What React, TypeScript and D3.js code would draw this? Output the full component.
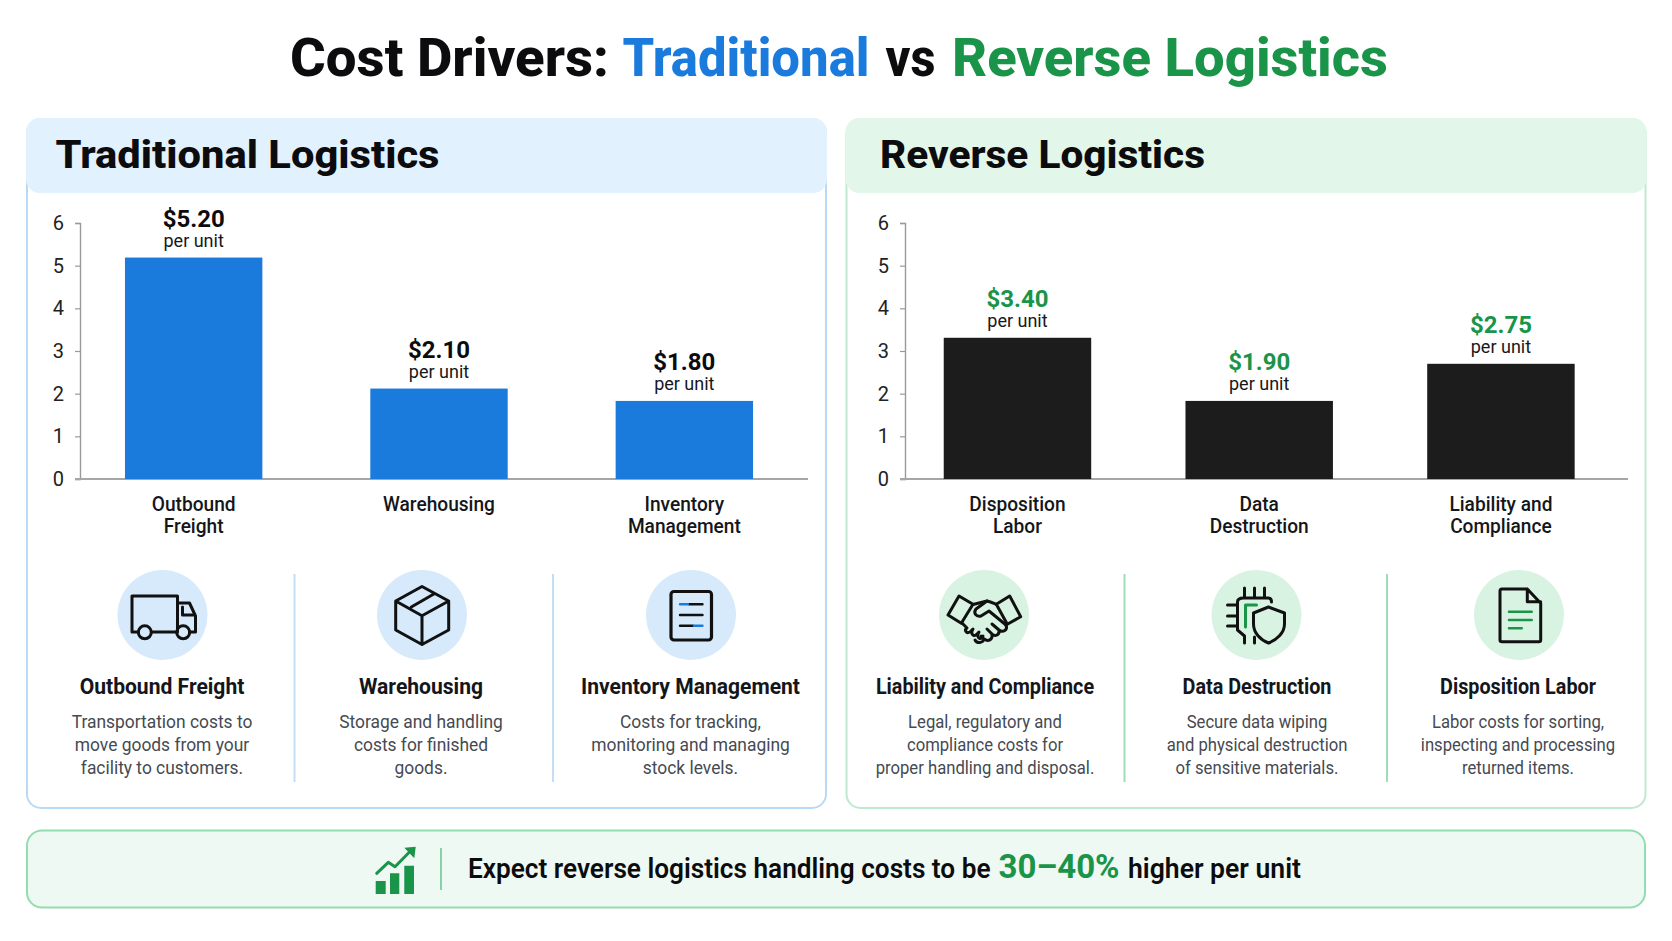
import React, { useEffect, useRef } from "react";
import * as d3 from "d3";

const FONT = "Roboto, 'Noto Sans', sans-serif";
const BLUE = "#1a7bdd";
const GREEN = "#1a9448";
const INK = "#0c0c0e";

const yTicks = [0, 1, 2, 3, 4, 5, 6];

// bar heights as drawn in the picture, printed labels kept apart
const tradCategories = [["Outbound", "Freight"], ["Warehousing"], ["Inventory", "Management"]];
const tradBars = [5.19, 2.12, 1.83];
const tradLabels = ["$5.20", "$2.10", "$1.80"];

const revCategories = [["Disposition", "Labor"], ["Data", "Destruction"], ["Liability and", "Compliance"]];
const revBars = [3.31, 1.83, 2.7];
const revLabels = ["$3.40", "$1.90", "$2.75"];

const tradCards = ["Outbound Freight", "Warehousing", "Inventory Management"];
const tradText = [
  ["Transportation costs to", "move goods from your", "facility to customers."],
  ["Storage and handling", "costs for finished", "goods."],
  ["Costs for tracking,", "monitoring and managing", "stock levels."],
];
const revCards = ["Liability and Compliance", "Data Destruction", "Disposition Labor"];
const revText = [
  ["Legal, regulatory and", "compliance costs for", "proper handling and disposal."],
  ["Secure data wiping", "and physical destruction", "of sensitive materials."],
  ["Labor costs for sorting,", "inspecting and processing", "returned items."],
];

type G = d3.Selection<SVGGElement, unknown, null, undefined>;

function text(
  g: any,
  str: string,
  x: number,
  y: number,
  size: number,
  weight: number,
  fill: string,
  anchor = "middle",
  width?: number,
  squeeze?: number
) {
  const t = g
    .append("text")
    .attr("x", x)
    .attr("y", y)
    .attr("font-size", size)
    .attr("font-weight", weight)
    .attr("fill", fill)
    .attr("text-anchor", anchor)
    .text(str);
  // the reference type runs narrower than Roboto, so pull it in
  const len = width ?? (squeeze ? t.node().getComputedTextLength() * squeeze : 0);
  if (len) t.attr("textLength", len).attr("lengthAdjust", "spacingAndGlyphs");
  return t;
}

function stroke(g: G, d: string, color = "#111", w = 3) {
  g.append("path")
    .attr("d", d)
    .attr("fill", "none")
    .attr("stroke", color)
    .attr("stroke-width", w)
    .attr("stroke-linejoin", "round")
    .attr("stroke-linecap", "round");
}

const icons: Record<string, (g: G) => void> = {
  truck: (g) => {
    stroke(g, "M-24 17H-30.5V-19H15V17M-11 17H14M27 17H33V1L27 -12H15");
    stroke(g, "M20 -8V0H31");
    g.append("circle").attr("cx", -17.7).attr("cy", 17.3).attr("r", 6.5).attr("fill", "none").attr("stroke", "#111").attr("stroke-width", 3);
    g.append("circle").attr("cx", 20.7).attr("cy", 17.3).attr("r", 6.5).attr("fill", "none").attr("stroke", "#111").attr("stroke-width", 3);
  },
  box: (g) => {
    stroke(g, "M0 -28.5L26.7 -14V15L0 29.5L-26.3 15V-14ZM-26.3 -14L0 .7L26.7 -14M0 .7V29.5M-10.7 -8L12.7 -21.5");
  },
  doc: (g) => {
    g.append("rect").attr("x", -20).attr("y", -23.5).attr("width", 40.5).attr("height", 48.5).attr("rx", 3).attr("fill", "none").attr("stroke", "#111").attr("stroke-width", 3.2);
    stroke(g, "M-2 -10.7H11.5M-11 0H11.5M-11 10.7H2", "#111", 2.4);
    stroke(g, "M-11 -10.7H-3M3 10.7H11.5", BLUE, 2.4);
  },
  hands: (g) => {
    stroke(g, "M-25 -19L-11 -10.7L-22.7 8.3L-36 0ZM25.7 -19L36.7 1.7L23.3 9.3L12.3 -10.7Z");
    stroke(g, "M-11 -10.5C-5 -12 -1 -13 3 -14C7 -13 10 -11.5 12.5 -10.5");
    stroke(g, "M3 -14L-8 -6C-11 -2 -8 2 -3 1L5 -4L22 10");
    stroke(g, "M22 10C24 15 19 18 15 15L8 9M15 15C16 20 11 22 8 19L3 14M8 19C9 25 4 27 0 24L-3 21M0 24C-1 28 -7 29 -9 25");
    stroke(g, "M-22 8L-17 13C-20 15 -18 19 -14 17L-11 14C-14 18 -11 22 -8 20L-5 17C-8 21 -5 25 -2 23L-1 21");
  },
  chip: (g) => {
    stroke(g, "M-12 -27V-18M-2 -27V-18M8 -27V-18M-29 -10H-20M-29 1H-20M-29 11H-20");
    stroke(g, "M-12 22V28M-2 22V28M-12 21L-19 15V-13C-19 -16 -16 -17 -13 -17H12C14 -17 15 -15 15 -13");
    stroke(g, "M0 -10H-11V12", GREEN, 3);
    g.append("path")
      .attr("d", "M12 -8L28 -2V9C28 18 20 25 12 28C4 25 -3 18 -3 9V-2Z")
      .attr("fill", "#d9f3e3")
      .attr("stroke", "#111")
      .attr("stroke-width", 3)
      .attr("stroke-linejoin", "round");
  },
  page: (g) => {
    stroke(g, "M8.3 -26H-17C-18.5 -26 -19 -25 -19 -24V25C-19 26 -18.5 26.7 -17 26.7H19.7C21 26.7 21.7 26 21.7 25V-11.7L8.3 -26V-13.3H21.7");
    stroke(g, "M-10 -3.3H12.7M-10 5H12.7M-10 13.3H2.7", GREEN, 2.6);
  },
};

function drawPanel(
  svg: any,
  opt: {
    left: number;
    right: number;
    top: number;
    headerBottom: number;
    bottom: number;
    header: string;
    headerX: number;
    headerW: number;
    headerFill: string;
    border: string;
    circle: string;
    divider: string;
    axisX: number;
    axisEnd: number;
    band: [number, number];
    padding: number;
    barFill: string;
    labelFill: string;
    categories: string[][];
    bars: number[];
    labels: string[];
    cards: string[];
    cardText: string[][];
    cardIcons: string[];
    circleX: number[];
    cardX: number[];
    dividers: number[];
    titleSqueeze: number;
    textSqueeze: number;
  }
) {
  const g = svg.append("g");
  const w = opt.right - opt.left;
  const h = opt.bottom - opt.top;

  g.append("rect")
    .attr("x", opt.left)
    .attr("y", opt.top)
    .attr("width", w)
    .attr("height", h)
    .attr("rx", 14)
    .attr("fill", "#fff")
    .attr("stroke", opt.border)
    .attr("stroke-width", 2);
  g.append("rect")
    .attr("x", opt.left - 1)
    .attr("y", opt.top - 1)
    .attr("width", w + 2)
    .attr("height", opt.headerBottom - opt.top + 1)
    .attr("rx", 14)
    .attr("fill", opt.headerFill);
  text(g, opt.header, opt.headerX, 168, 39, 800, INK, "start", opt.headerW);

  const x = d3
    .scaleBand<number>()
    .domain(d3.range(opt.categories.length))
    .range(opt.band)
    .paddingInner(opt.padding)
    .paddingOuter(opt.padding / 2);
  const y = d3.scaleLinear().domain([0, 6]).range([479, 223]);

  const yAxis = g
    .append("g")
    .attr("transform", `translate(${opt.axisX},0)`)
    .call(d3.axisLeft(y).tickValues(yTicks).tickFormat(d3.format("d")).tickSize(5).tickPadding(11) as any);
  yAxis.select(".domain").attr("stroke", "#9a9a9a").attr("stroke-width", 1.4);
  yAxis.selectAll("line").attr("stroke", "#9a9a9a").attr("stroke-width", 1.2);
  yAxis.selectAll("text").attr("font-size", 20).attr("font-family", FONT).attr("fill", "#222");

  g.append("line")
    .attr("x1", opt.axisX - 5)
    .attr("x2", opt.axisEnd)
    .attr("y1", y(0))
    .attr("y2", y(0))
    .attr("stroke", "#a6a6a6")
    .attr("stroke-width", 2);

  g.selectAll("rect.bar")
    .data(opt.bars)
    .enter()
    .append("rect")
    .attr("class", "bar")
    .attr("x", (_d: number, i: number) => x(i)!)
    .attr("width", x.bandwidth())
    .attr("y", (d: number) => y(d))
    .attr("height", (d: number) => y(0) - y(d))
    .attr("fill", opt.barFill);

  opt.bars.forEach((d, i) => {
    const cx = x(i)! + x.bandwidth() / 2;
    text(g, opt.labels[i], cx, y(d) - 31, 24, 700, opt.labelFill);
    text(g, "per unit", cx, y(d) - 10.5, 18, 400, "#16181c");
    opt.categories[i].forEach((line, k) => {
      text(g, line, cx, 511 + k * 22, 19.5, 500, "#14161a", "middle", undefined, 0.98);
    });
  });

  opt.dividers.forEach((dx) => {
    g.append("line").attr("x1", dx).attr("x2", dx).attr("y1", 574).attr("y2", 782).attr("stroke", opt.divider).attr("stroke-width", 2);
  });

  opt.cards.forEach((title, i) => {
    g.append("circle").attr("cx", opt.circleX[i]).attr("cy", 615).attr("r", 45).attr("fill", opt.circle);
    const ig = g.append("g").attr("transform", `translate(${opt.circleX[i]},615)`);
    icons[opt.cardIcons[i]](ig);
    text(g, title, opt.cardX[i], 693.5, 21.5, 700, "#14161a", "middle", undefined, opt.titleSqueeze);
    opt.cardText[i].forEach((line, k) => {
      text(g, line, opt.cardX[i], 728 + k * 22.8, 18.5, 400, "#454a52", "middle", undefined, opt.textSqueeze);
    });
  });
}

const App: React.FC = () => {
  const svgRef = useRef<SVGSVGElement>(null);

  useEffect(() => {
    const svg = d3.select(svgRef.current).attr("font-family", FONT);
    svg.selectAll("*").remove();

    // title, each run placed on its own
    text(svg, "Cost Drivers:", 290, 76, 54, 800, INK, "start", 319);
    text(svg, "Traditional", 622.5, 76, 54, 800, BLUE, "start", 247);
    text(svg, "vs", 885.5, 76, 54, 800, INK, "start", 50);
    text(svg, "Reverse Logistics", 952, 76, 54, 800, GREEN, "start", 436);

    drawPanel(svg, {
      left: 27,
      right: 826,
      top: 119,
      headerBottom: 193,
      bottom: 808,
      header: "Traditional Logistics",
      headerX: 55.5,
      headerW: 384,
      headerFill: "#e2f1fe",
      border: "#b9daf6",
      circle: "#d6eafb",
      divider: "#c3def5",
      axisX: 80,
      axisEnd: 808,
      band: [71, 807],
      padding: 0.44,
      barFill: BLUE,
      labelFill: INK,
      categories: tradCategories,
      bars: tradBars,
      labels: tradLabels,
      cards: tradCards,
      cardText: tradText,
      cardIcons: ["truck", "box", "doc"],
      circleX: [162.5, 422, 691],
      cardX: [162, 421, 690.5],
      dividers: [294.5, 553],
      titleSqueeze: 0.98,
      textSqueeze: 0.94,
    });

    drawPanel(svg, {
      left: 846.5,
      right: 1645.5,
      top: 119,
      headerBottom: 193,
      bottom: 808,
      header: "Reverse Logistics",
      headerX: 880,
      headerW: 325,
      headerFill: "#e2f6ea",
      border: "#bfe8cf",
      circle: "#d9f3e3",
      divider: "#9fdcb8",
      axisX: 905,
      axisEnd: 1628,
      band: [896.6, 1621.8],
      padding: 0.39,
      barFill: "#1c1c1c",
      labelFill: GREEN,
      categories: revCategories,
      bars: revBars,
      labels: revLabels,
      cards: revCards,
      cardText: revText,
      cardIcons: ["hands", "chip", "page"],
      circleX: [984, 1256.5, 1519],
      cardX: [985, 1257, 1518],
      dividers: [1124.5, 1387],
      titleSqueeze: 0.92,
      textSqueeze: 0.9,
    });

    // bottom banner
    const banner = svg.append("g");
    banner
      .append("rect")
      .attr("x", 27)
      .attr("y", 830.5)
      .attr("width", 1618)
      .attr("height", 77)
      .attr("rx", 15)
      .attr("fill", "#eff9f3")
      .attr("stroke", "#93dcb0")
      .attr("stroke-width", 2);

    banner.append("path").attr("fill", GREEN).attr("d", "M375.7 881H385.7V894H375.7ZM390 873.3H399.3V894H390ZM404.3 865.7H414V894H404.3Z");
    stroke(banner as any, "M376.7 873.3L388.3 862.3L395 866.7L410 851.5", GREEN, 3);
    banner.append("path").attr("fill", GREEN).attr("d", "M404.3 847.7L415.7 846.7L414.3 858.3Z");
    banner.append("line").attr("x1", 441).attr("x2", 441).attr("y1", 848).attr("y2", 890).attr("stroke", "#6fc793").attr("stroke-width", 1.6);

    text(banner, "Expect reverse logistics handling costs to be", 468, 878, 28, 600, INK, "start", 522.5);
    text(banner, "30–40%", 998.5, 878, 33, 700, GREEN, "start", 121);
    text(banner, "higher per unit", 1128, 878, 28, 600, INK, "start", 173);
  }, []);

  return (
    <div style={{ position: "absolute", left: 0, top: 0 }}>
      <svg ref={svgRef} width={1672} height={941} style={{ display: "block", background: "#fff" }}></svg>
    </div>
  );
};

export default App;
